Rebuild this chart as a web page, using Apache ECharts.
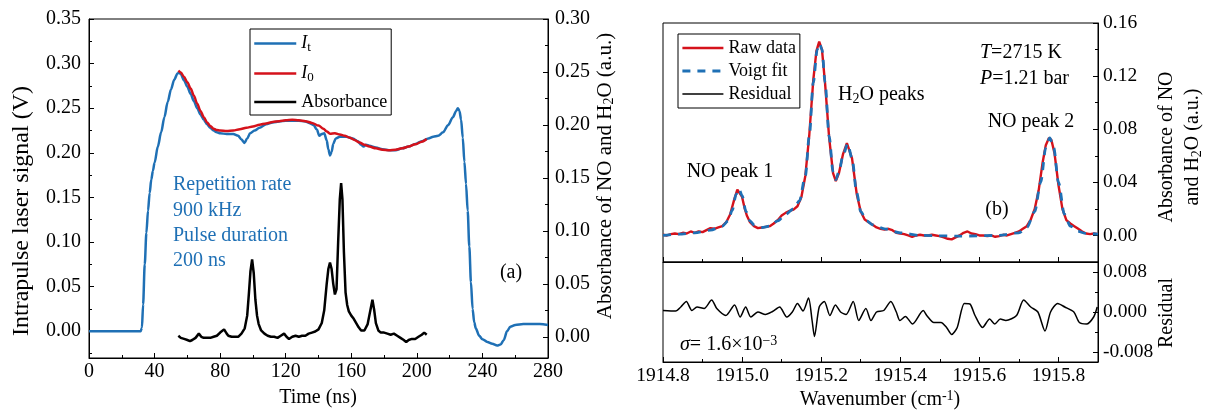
<!DOCTYPE html>
<html><head><meta charset="utf-8">
<script src="https://cdn.jsdelivr.net/npm/echarts@6/dist/echarts.min.js"></script>
<style>html,body{margin:0;padding:0;background:#fff}#c{width:1208px;height:414px}</style>
</head><body><div id="c"></div>
<script>
const FONT = "'Liberation Serif','Times New Roman',serif";
const BLUE = '#1f70b5', RED = '#d5121b', BLACK = '#000';

// tick values
const signalTicks = [0, 0.05, 0.10, 0.15, 0.20, 0.25, 0.30, 0.35];
const signalMinor = [-0.025, 0.025, 0.075, 0.125, 0.175, 0.225, 0.275, 0.325];
const absTicks = [0, 0.05, 0.10, 0.15, 0.20, 0.25, 0.30];
const absMinor = [0.025, 0.075, 0.125, 0.175, 0.225, 0.275];
const waveTicks = [1914.8, 1915.0, 1915.2, 1915.4, 1915.6, 1915.8];
const waveMinor = [1914.9, 1915.1, 1915.3, 1915.5, 1915.7];
const specTicks = [0, 0.04, 0.08, 0.12, 0.16];
const specMinor = [0.02, 0.06, 0.10, 0.14];
const residTicks = [-0.008, 0, 0.008];
const residMinor = [-0.004, 0.004];

// panel (a): time (ns) vs signal (V)
const It = [[0,0],[10,0],[20,0],[31.5,0],[32.3,0.004],[33,0.03],[34,0.075],[35,0.11],[36,0.135],[37,0.155],[38,0.17],[39,0.18],[40,0.189],[42,0.207],[44,0.223],[46,0.24],[48,0.257],[50,0.271],[52,0.282],[54,0.289],[55,0.29],[56,0.288],[58,0.281],[60,0.274],[62,0.266],[64,0.258],[66,0.25],[68,0.243],[70,0.237],[72,0.232],[74,0.228],[76,0.225],[78,0.223],[80,0.222],[84,0.221],[88,0.221],[91,0.219],[93,0.215],[94.8,0.211],[96.5,0.216],[98.3,0.222],[101,0.225],[104,0.228],[108,0.232],[112,0.234],[116,0.235],[120,0.236],[124,0.236],[128,0.236],[132,0.235],[135,0.233],[137,0.231],[139,0.226],[140.5,0.219],[142,0.221],[143.5,0.222],[145,0.214],[146,0.204],[147,0.197],[148,0.201],[149,0.21],[150.5,0.216],[153,0.218],[157,0.218],[161,0.216],[164,0.213],[166,0.209],[167.5,0.207],[169,0.209],[171,0.208],[175,0.206],[179,0.204],[183,0.203],[187,0.203],[191,0.205],[195,0.207],[199,0.21],[203,0.213],[207,0.216],[210,0.218],[213,0.219],[216,0.223],[219,0.231],[222,0.24],[224,0.247],[225,0.25],[226,0.247],[227,0.237],[228,0.217],[229,0.19],[230,0.165],[231,0.135],[232,0.095],[233,0.055],[234,0.025],[235,0.01],[236,0.003],[238,-0.005],[240,-0.009],[243,-0.012],[246,-0.014],[249,-0.016],[251,-0.015],[253,-0.01],[255,0],[257,0.005],[260,0.007],[265,0.008],[270,0.008],[275,0.008],[280,0.007]];
const I0 = [[54.5,0.292],[56,0.29],[58,0.285],[60,0.279],[62,0.272],[64,0.264],[66,0.255],[68,0.247],[70,0.24],[72,0.234],[74,0.23],[76,0.227],[78,0.2255],[80,0.225],[84,0.2245],[88,0.225],[92,0.2265],[96,0.228],[100,0.2295],[104,0.2315],[108,0.233],[112,0.2345],[116,0.2355],[120,0.2365],[124,0.237],[128,0.2365],[132,0.2355],[136,0.2335],[140,0.2305],[143,0.227],[145,0.224],[147,0.2215],[150,0.222],[153,0.2205],[156,0.219],[159,0.217],[162,0.2145],[165,0.2115],[168,0.209],[171,0.207],[175,0.205],[179,0.2035],[183,0.203],[187,0.2035],[191,0.205],[195,0.207],[199,0.2095],[203,0.2125],[206,0.2155]];
const absorbance = [[54.5,0.001],[56,-0.001],[58,-0.002],[60,-0.003],[61.6,-0.004],[63,-0.003],[65,-0.001],[67,0.003],[68.5,0.0],[70,-0.001],[72,-0.001],[74,-0.001],[76,0.0],[78,0.001],[80,0.004],[82.4,0.007],[84,0.003],[85,0.001],[87,0.0],[89,0.0],[91,0.0],[93,0.003],[95,0.008],[96.5,0.02],[97.5,0.04],[98.5,0.062],[99.5,0.073],[100.5,0.06],[101.5,0.035],[102.5,0.02],[103.5,0.012],[105,0.006],[107,0.003],[109,0.001],[111,0.0],[113,0.0],[115,-0.001],[117,0.001],[119,0.003],[120.5,0.0],[122,-0.002],[124,0.0],[126,0.001],[128,0.0],[130,0.001],[132,0.001],[134,0.003],[136,0.004],[138,0.005],[140,0.007],[142,0.013],[143.5,0.025],[145,0.05],[146,0.064],[147,0.070],[148,0.064],[149,0.05],[150,0.040],[151,0.045],[152,0.09],[153,0.13],[153.8,0.145],[154.6,0.13],[155.5,0.08],[156.5,0.042],[157.5,0.03],[158.5,0.024],[160,0.02],[161.5,0.017],[163,0.013],[164.5,0.009],[166,0.006],[168,0.006],[170,0.012],[171.5,0.024],[172.9,0.035],[174,0.025],[175,0.013],[176.5,0.006],[178,0.004],[180,0.004],[182,0.003],[184,0.002],[186,0.003],[188,0.001],[190,-0.001],[192,-0.003],[193.5,-0.005],[195,-0.003],[197,-0.002],[199,-0.002],[201,0.0],[203,0.002],[204.5,0.004],[206,0.002]];

// panel (b): wavenumber (cm-1) vs absorbance
const rawData = [[1914.8,0.0005],[1914.81,0.0],[1914.82,0.001],[1914.83,0.0015],[1914.84,0.001],[1914.85,0.002],[1914.86,0.0015],[1914.87,0.003],[1914.88,0.002],[1914.89,0.003],[1914.9,0.0025],[1914.91,0.004],[1914.92,0.0055],[1914.93,0.005],[1914.94,0.006],[1914.95,0.007],[1914.96,0.01],[1914.97,0.016],[1914.98,0.027],[1914.988,0.0345],[1914.993,0.035],[1915.0,0.029],[1915.006,0.021],[1915.012,0.015],[1915.02,0.01],[1915.03,0.007],[1915.04,0.0055],[1915.05,0.006],[1915.06,0.0065],[1915.07,0.007],[1915.08,0.009],[1915.09,0.0115],[1915.1,0.015],[1915.11,0.017],[1915.12,0.0185],[1915.13,0.0195],[1915.14,0.022],[1915.15,0.029],[1915.16,0.045],[1915.17,0.076],[1915.18,0.117],[1915.188,0.139],[1915.195,0.146],[1915.202,0.14],[1915.21,0.114],[1915.22,0.074],[1915.23,0.047],[1915.237,0.041],[1915.245,0.047],[1915.255,0.061],[1915.265,0.0695],[1915.27,0.069],[1915.278,0.058],[1915.29,0.031],[1915.3,0.018],[1915.31,0.012],[1915.32,0.01],[1915.33,0.008],[1915.34,0.006],[1915.35,0.005],[1915.36,0.0045],[1915.37,0.005],[1915.375,0.0055],[1915.38,0.004],[1915.39,0.002],[1915.4,0.0015],[1915.41,0.001],[1915.42,0.0],[1915.43,-0.001],[1915.44,0.0],[1915.45,0.0005],[1915.46,0.0],[1915.47,0.0],[1915.48,0.0005],[1915.49,0.0],[1915.5,-0.0005],[1915.51,-0.0015],[1915.52,-0.0025],[1915.53,-0.003],[1915.54,-0.0015],[1915.55,0.0],[1915.56,0.002],[1915.57,0.003],[1915.58,0.0015],[1915.59,0.001],[1915.6,0.0],[1915.61,0.0],[1915.62,-0.0005],[1915.63,0.0],[1915.64,-0.001],[1915.65,-0.0005],[1915.66,0.0005],[1915.67,0.0],[1915.68,0.001],[1915.69,0.002],[1915.7,0.003],[1915.71,0.005],[1915.72,0.007],[1915.73,0.012],[1915.74,0.02],[1915.75,0.034],[1915.76,0.055],[1915.768,0.068],[1915.776,0.0735],[1915.782,0.072],[1915.79,0.062],[1915.8,0.038],[1915.81,0.02],[1915.82,0.0115],[1915.83,0.009],[1915.84,0.007],[1915.85,0.005],[1915.86,0.003],[1915.87,0.0015],[1915.88,0.001],[1915.89,0.0015],[1915.9,0.001]];
const voigtFit = [[1914.8,0.0],[1914.84,0.001],[1914.88,0.002],[1914.92,0.004],[1914.95,0.007],[1914.965,0.011],[1914.975,0.019],[1914.985,0.031],[1914.992,0.035],[1915.0,0.03],[1915.01,0.018],[1915.02,0.011],[1915.03,0.008],[1915.05,0.006],[1915.07,0.007],[1915.09,0.011],[1915.11,0.016],[1915.13,0.02],[1915.145,0.026],[1915.16,0.045],[1915.17,0.075],[1915.18,0.115],[1915.19,0.14],[1915.196,0.1445],[1915.202,0.14],[1915.21,0.115],[1915.22,0.075],[1915.23,0.048],[1915.237,0.042],[1915.245,0.048],[1915.255,0.06],[1915.267,0.069],[1915.278,0.058],[1915.29,0.032],[1915.3,0.018],[1915.315,0.011],[1915.33,0.008],[1915.36,0.005],[1915.4,0.002],[1915.45,0.0],[1915.55,-0.0005],[1915.65,0.0],[1915.7,0.002],[1915.72,0.006],[1915.74,0.018],[1915.755,0.04],[1915.768,0.066],[1915.778,0.0735],[1915.788,0.066],[1915.8,0.04],[1915.815,0.016],[1915.83,0.007],[1915.85,0.003],[1915.87,0.0015],[1915.9,0.001]];
const residual = [[1914.8,0.0003],[1914.832,0.0002],[1914.845,0.001],[1914.859,0.0021],[1914.873,0.0003],[1914.886,0.001],[1914.904,0.0007],[1914.923,0.0024],[1914.936,0.0007],[1914.959,-0.0007],[1914.981,0.0014],[1914.995,-0.001],[1915.009,0.001],[1915.022,-0.001],[1915.04,0.0],[1915.059,-0.0005],[1915.077,0.0001],[1915.095,0.001],[1915.113,-0.001],[1915.127,0.0],[1915.14,0.0017],[1915.154,0.0002],[1915.168,0.0028],[1915.177,-0.0017],[1915.183,-0.0049],[1915.195,0.001],[1915.208,0.0021],[1915.222,-0.0007],[1915.236,0.0014],[1915.249,0.0],[1915.263,-0.0005],[1915.281,0.0021],[1915.295,-0.0017],[1915.313,0.0007],[1915.326,-0.0017],[1915.34,0.0],[1915.358,0.0003],[1915.376,0.0021],[1915.39,0.0],[1915.399,-0.0017],[1915.413,-0.0009],[1915.431,-0.0024],[1915.458,0.0003],[1915.467,-0.0007],[1915.485,-0.0021],[1915.503,-0.0021],[1915.517,-0.0031],[1915.53,-0.0045],[1915.544,-0.0031],[1915.562,0.0017],[1915.576,0.0016],[1915.589,-0.0007],[1915.608,-0.0031],[1915.626,-0.0014],[1915.639,-0.0024],[1915.653,-0.0014],[1915.667,-0.0017],[1915.694,-0.0007],[1915.712,0.0024],[1915.73,0.001],[1915.748,0.0],[1915.766,-0.0038],[1915.78,0.0],[1915.798,0.0017],[1915.816,0.001],[1915.839,0.0],[1915.853,-0.0021],[1915.871,-0.0024],[1915.889,-0.001],[1915.898,0.001]];

const chart = echarts.init(document.getElementById('c'), null, {renderer: 'canvas'});

function richSet(size, color) {
  const base = {fontFamily: FONT, fontSize: size, lineHeight: size};
  const o = {
    it: Object.assign({}, base, {fontStyle: 'italic'}),
    sub: {fontFamily: FONT, fontSize: Math.round(size * 0.68), padding: [Math.round(size * 0.42), 0, 0, 0], lineHeight: size},
    sup: {fontFamily: FONT, fontSize: Math.round(size * 0.68), padding: [0, 0, Math.round(size * 0.42), 0], lineHeight: size},
    n: base
  };
  if (color) { for (const k in o) o[k].fill = color; }
  return o;
}
function txt(text, x, y, o) {
  o = o || {};
  const size = o.size || 20;
  return {
    type: 'text', x: x, y: y, rotation: o.rot || 0, silent: true, z: 100,
    style: {
      text: text, fontFamily: FONT, fontSize: size, fill: o.color || '#000',
      align: o.align || 'center', verticalAlign: 'middle', lineHeight: size,
      rich: richSet(size, o.color || '#000')
    }
  };
}

const axisLineStyle = {color: '#000', width: 1};
function valueAxis(extra) {
  return Object.assign({
    type: 'value', scale: true, splitLine: {show: false},
    axisLine: {show: true, onZero: false, lineStyle: axisLineStyle},
    axisTick: {show: true, inside: true, length: 5, lineStyle: {color: '#000'}},
    axisLabel: {show: true, color: '#000', fontFamily: FONT, fontSize: 20}
  }, extra);
}
function minorAxis(extra, vals) {
  return Object.assign({
    type: 'value', splitLine: {show: false},
    axisLine: {show: false, onZero: false},
    axisTick: {show: true, inside: true, length: 3, customValues: vals, lineStyle: {color: '#000'}},
    axisLabel: {show: false}
  }, extra);
}

const fmt = d => v => v.toFixed(d);
const hiddenSymbol = {color: 'rgba(0,0,0,0)', borderWidth: 0, opacity: 0};

const option = {
  animation: false,
  backgroundColor: '#fff',
  grid: [
    {left: 89, top: 19, width: 459, height: 339, show: true, borderColor: '#000', borderWidth: 1, backgroundColor: 'transparent'},
    {left: 663, top: 23, width: 435, height: 239, show: true, borderColor: '#000', borderWidth: 1, backgroundColor: 'transparent'},
    {left: 663, top: 262, width: 435, height: 100, show: true, borderColor: '#000', borderWidth: 1, backgroundColor: 'transparent'}
  ],
  xAxis: [
    valueAxis({gridIndex: 0, position: 'bottom', min: 0, max: 280, interval: 40,
      minorTick: {show: true, splitNumber: 2, length: 3, lineStyle: {color: '#000'}},
      axisLabel: {color: '#000', fontFamily: FONT, fontSize: 20, margin: 4}}),
    valueAxis({gridIndex: 1, position: 'bottom', min: 1914.8, max: 1915.9,
      axisTick: {show: true, inside: true, length: 5, customValues: waveTicks, lineStyle: {color: '#000'}},
      axisLabel: {show: false, customValues: waveTicks}}),
    minorAxis({gridIndex: 1, position: 'bottom', min: 1914.8, max: 1915.9}, waveMinor),
    valueAxis({gridIndex: 2, position: 'bottom', min: 1914.8, max: 1915.9,
      axisTick: {show: true, inside: true, length: 5, customValues: waveTicks, lineStyle: {color: '#000'}},
      axisLabel: {show: true, customValues: waveTicks, formatter: fmt(1), color: '#000', fontFamily: FONT, fontSize: 19.5, margin: 4}}),
    minorAxis({gridIndex: 2, position: 'bottom', min: 1914.8, max: 1915.9}, waveMinor)
  ],
  yAxis: [
    valueAxis({gridIndex: 0, position: 'left', min: -0.03, max: 0.35,
      axisTick: {show: true, inside: true, length: 5, customValues: signalTicks, lineStyle: {color: '#000'}},
      axisLabel: {customValues: signalTicks, formatter: fmt(2), color: '#000', fontFamily: FONT, fontSize: 20, margin: 8}}),
    minorAxis({gridIndex: 0, position: 'left', min: -0.03, max: 0.35}, signalMinor),
    valueAxis({gridIndex: 0, position: 'right', min: -0.02, max: 0.30,
      axisTick: {show: true, inside: true, length: 5, customValues: absTicks, lineStyle: {color: '#000'}},
      axisLabel: {customValues: absTicks, formatter: fmt(2), color: '#000', fontFamily: FONT, fontSize: 20, margin: 7}}),
    minorAxis({gridIndex: 0, position: 'right', min: -0.02, max: 0.30}, absMinor),
    valueAxis({gridIndex: 1, position: 'right', min: -0.02, max: 0.16,
      axisTick: {show: true, inside: true, length: 5, customValues: specTicks, lineStyle: {color: '#000'}},
      axisLabel: {customValues: specTicks, formatter: fmt(2), color: '#000', fontFamily: FONT, fontSize: 19.5, margin: 5}}),
    minorAxis({gridIndex: 1, position: 'right', min: -0.02, max: 0.16}, specMinor),
    valueAxis({gridIndex: 2, position: 'right', min: -0.01, max: 0.01,
      axisTick: {show: true, inside: true, length: 5, customValues: residTicks, lineStyle: {color: '#000'}},
      axisLabel: {customValues: residTicks, formatter: fmt(3), color: '#000', fontFamily: FONT, fontSize: 19.5, margin: 5}}),
    minorAxis({gridIndex: 2, position: 'right', min: -0.01, max: 0.01}, residMinor)
  ],
  legend: [
    {
      data: ['I_t', 'I_0', 'Absorbance'], orient: 'vertical', left: 250, top: 29,
      padding: [4, 4, 4, 3], itemWidth: 42, itemHeight: 14, itemGap: 9,
      borderColor: '#000', borderWidth: 1, backgroundColor: '#fff', selectedMode: false,
      lineStyle: {width: 'inherit'}, itemStyle: hiddenSymbol,
      textStyle: {fontFamily: FONT, fontSize: 18, color: '#000', lineHeight: 18, rich: {
        i: {fontFamily: FONT, fontSize: 18, fontStyle: 'italic', lineHeight: 18},
        s: {fontFamily: FONT, fontSize: 13, padding: [8, 0, 0, 0], lineHeight: 18}
      }},
      formatter: n => n === 'I_t' ? '{i|I}{s|t}' : (n === 'I_0' ? '{i|I}{s|0}' : n)
    },
    {
      data: ['Raw data', 'Voigt fit', 'Residual'], orient: 'vertical', left: 678, top: 34,
      padding: [5, 4, 5, 3], itemWidth: 41, itemHeight: 14, itemGap: 5,
      borderColor: '#000', borderWidth: 1, backgroundColor: '#fff', selectedMode: false,
      lineStyle: {width: 'inherit'}, itemStyle: hiddenSymbol,
      textStyle: {fontFamily: FONT, fontSize: 18, color: '#000', lineHeight: 18}
    }
  ],
  series: [
    {name: 'I_t', type: 'line', xAxisIndex: 0, yAxisIndex: 0, data: It, symbol: 'none', showSymbol: false,
      smooth: 0.3, smoothMonotone: 'x', lineStyle: {color: BLUE, width: 2.5}, itemStyle: {color: BLUE}, z: 2},
    {name: 'I_0', type: 'line', xAxisIndex: 0, yAxisIndex: 0, data: I0, symbol: 'none', showSymbol: false,
      smooth: 0.3, smoothMonotone: 'x', lineStyle: {color: RED, width: 2.5}, itemStyle: {color: RED}, z: 3},
    {name: 'Absorbance', type: 'line', xAxisIndex: 0, yAxisIndex: 2, data: absorbance, symbol: 'none', showSymbol: false,
      lineStyle: {color: BLACK, width: 2.5}, itemStyle: {color: BLACK}, z: 4},
    {name: 'Raw data', type: 'line', xAxisIndex: 1, yAxisIndex: 4, data: rawData, symbol: 'none', showSymbol: false,
      lineStyle: {color: RED, width: 2.4}, itemStyle: {color: RED}, z: 2},
    {name: 'Voigt fit', type: 'line', xAxisIndex: 1, yAxisIndex: 4, data: voigtFit, symbol: 'none', showSymbol: false,
      smooth: 0.3, smoothMonotone: 'x', lineStyle: {color: BLUE, width: 2.8, type: [8, 7]}, itemStyle: {color: BLUE}, z: 3},
    {name: 'Residual', type: 'line', xAxisIndex: 3, yAxisIndex: 6, data: residual, symbol: 'none', showSymbol: false,
      smooth: 0.25, lineStyle: {color: BLACK, width: 1.5}, itemStyle: {color: BLACK}, z: 2}
  ],
  graphic: [
    txt('Intrapulse laser signal (V)', 22, 211, {rot: Math.PI / 2, size: 24}),
    txt('Absorbance of NO and H{sub|2}O (a.u.)', 605, 176, {rot: Math.PI / 2, size: 21}),
    txt('Time (ns)', 318, 398),
    txt('Repetition rate', 173, 185, {align: 'left', color: BLUE}),
    txt('900 kHz', 173, 211, {align: 'left', color: BLUE}),
    txt('Pulse duration', 173, 236, {align: 'left', color: BLUE}),
    txt('200 ns', 173, 261, {align: 'left', color: BLUE}),
    txt('(a)', 511, 273),
    txt('Absorbance of NO', 1167, 147, {rot: Math.PI / 2}),
    txt('and H{sub|2}O (a.u.)', 1193, 147, {rot: Math.PI / 2}),
    txt('Residual', 1167, 313, {rot: Math.PI / 2}),
    txt('Wavenumber (cm{sup|-1})', 880, 400),
    txt('NO peak 1', 730, 172),
    txt('H{sub|2}O peaks', 838, 95, {align: 'left'}),
    txt('NO peak 2', 1031, 122),
    txt('{it|T}=2715 K', 980, 53, {align: 'left'}),
    txt('{it|P}=1.21 bar', 980, 79, {align: 'left'}),
    txt('(b)', 997, 210),
    txt('{it|\u03c3}= 1.6\u00d710{sup|\u22123}', 680, 345, {align: 'left'})
  ]
};
chart.setOption(option);
</script></body></html>
